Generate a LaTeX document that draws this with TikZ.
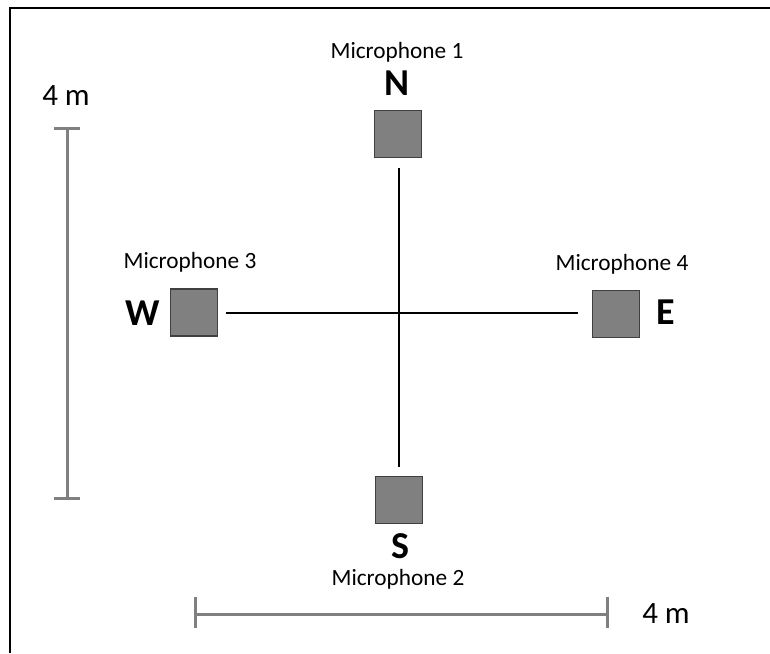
\documentclass[tikz,border=0pt]{standalone}
\usepackage{fontspec}
\setmainfont{Carlito}
\begin{document}
\begin{tikzpicture}[x=1pt,y=-1pt,
  mic/.style={draw=black!75,line width=1.2pt,fill=black!50,minimum size=47pt,inner sep=0pt},
  miclabel/.style={anchor=base,inner sep=0pt,font=\fontsize{23.3}{28}\selectfont},
  dirlabel/.style={anchor=base,inner sep=0pt,font=\fontsize{38}{44}\selectfont\bfseries},
  scalelabel/.style={anchor=base,inner sep=0pt,font=\fontsize{31}{36}\selectfont},
  scalebar/.style={draw=black!50,line width=3pt},
  axis/.style={draw=black,line width=2.4pt},
  frame/.style={draw=black,line width=2pt}]
\useasboundingbox (0,0) rectangle (770,653);
% frame (top and left edges visible)
\coordinate (fa) at (9.5,653);
\coordinate (fb) at (9.5,8);
\coordinate (fc) at (770,8);
\draw[frame] (fa) -- (fb) -- (fc);
% microphones
\node[mic] (m1) at (398,134) {};
\node[mic] (m2) at (399,500) {};
\node[mic] (m3) at (194,312.5) {};
\node[mic] (m4) at (616,314) {};
% cross lines
\coordinate (vt) at (399,168);
\coordinate (vb) at (399,467);
\coordinate (hl) at (226,313);
\coordinate (hr) at (578,313);
\draw[axis] (vt) -- (vb);
\draw[axis] (hl) -- (hr);
% labels
\node[miclabel] (l1) at (397,58) {Microphone 1};
\node[dirlabel] (n) at (397,95) {N};
\node[miclabel] (l3) at (190,268) {Microphone 3};
\node[dirlabel] (w) at (143,325) {W};
\node[miclabel] (l4) at (622,270) {Microphone 4};
\node[dirlabel] (e) at (666,324) {E};
\node[dirlabel] (s) at (400,558) {S};
\node[miclabel] (l2) at (398,585) {Microphone 2};
% vertical scale bar
\coordinate (vs1) at (67,128);
\coordinate (vs2) at (67,498);
\coordinate (vs1a) at (54,128);
\coordinate (vs1b) at (80,128);
\coordinate (vs2a) at (54,498);
\coordinate (vs2b) at (80,498);
\draw[scalebar] (vs1) -- (vs2);
\draw[scalebar] (vs1a) -- (vs1b);
\draw[scalebar] (vs2a) -- (vs2b);
\node[scalelabel] (sv) at (66,105) {4 m};
% horizontal scale bar
\coordinate (hs1) at (195,614);
\coordinate (hs2) at (607,614);
\coordinate (hs1a) at (195,597);
\coordinate (hs1b) at (195,628);
\coordinate (hs2a) at (607,597);
\coordinate (hs2b) at (607,628);
\draw[scalebar] (hs1) -- (hs2);
\draw[scalebar] (hs1a) -- (hs1b);
\draw[scalebar] (hs2a) -- (hs2b);
\node[scalelabel] (sh) at (666,623) {4 m};
\end{tikzpicture}
\end{document}
